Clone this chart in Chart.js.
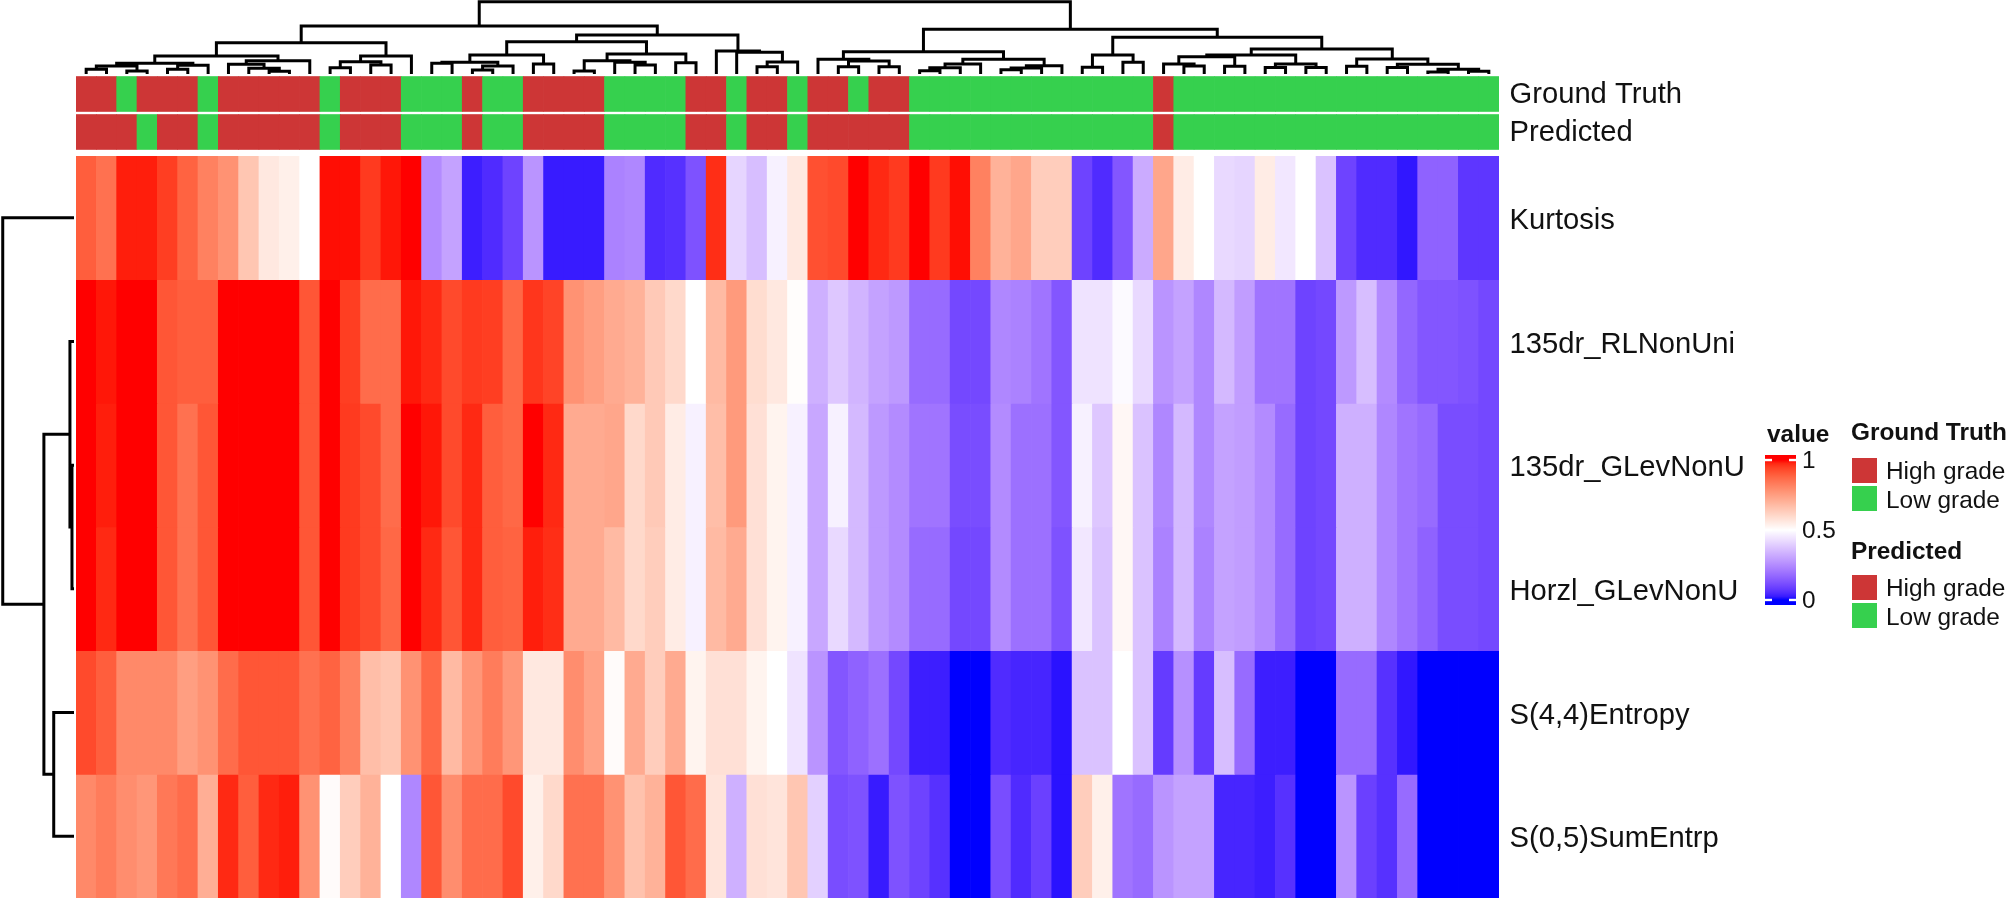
<!DOCTYPE html>
<html>
<head>
<meta charset="utf-8">
<title>Heatmap</title>
<script src="https://cdn.jsdelivr.net/npm/chart.js@4"></script>
<style>
  html, body { margin: 0; padding: 0; background: #fff; overflow: hidden; }
  canvas { position: absolute; }
  .txt { position: absolute; font-family: "Liberation Sans", Arial, sans-serif; font-size: 24.4px; line-height: 28px; color: #111; white-space: nowrap; }
  .bold { font-weight: bold; }
  .swatch { position: absolute; width: 25px; height: 25px; }
</style>
</head>
<body>
<canvas id="dendroTop" style="left:76px;top:0" width="1423" height="74"></canvas>
<canvas id="dendroLeft" style="left:0;top:156px" width="74" height="742"></canvas>
<canvas id="anno" style="left:76px;top:75px" width="1723" height="76"></canvas>
<canvas id="heat" style="left:76px;top:156px" width="1723" height="742"></canvas>
<canvas id="colorbar" style="left:1765px;top:440px" width="80" height="180"></canvas>

<div class="txt bold" style="left:1767px;top:420px">value</div>
<div class="txt bold" style="left:1851px;top:418px">Ground Truth</div>
<div class="swatch" style="left:1852px;top:458px;background:#cd3636"></div>
<div class="txt" style="left:1886px;top:457px">High grade</div>
<div class="swatch" style="left:1852px;top:486px;background:#36d04e"></div>
<div class="txt" style="left:1886px;top:486px">Low grade</div>
<div class="txt bold" style="left:1851px;top:537px">Predicted</div>
<div class="swatch" style="left:1852px;top:575px;background:#cd3636"></div>
<div class="txt" style="left:1886px;top:574px">High grade</div>
<div class="swatch" style="left:1852px;top:603px;background:#36d04e"></div>
<div class="txt" style="left:1886px;top:603px">Low grade</div>

<script>
// values, columns in the order of the dendrogram
var rowLabels = ['Kurtosis', '135dr_RLNonUni', '135dr_GLevNonU', 'Horzl_GLevNonU', 'S(4,4)Entropy', 'S(0,5)SumEntrp'];
var annoLabels = ['Ground Truth', 'Predicted'];

var kurtosis = [.895,.855,.985,.985,.95,.885,.82,.78,.65,.56,
  .54,.5,.995,.995,.955,.99,1,.25,.3,.03,
  .05,.095,.27,.025,.025,.025,.23,.24,.05,.06,
  .125,.97,.41,.36,.47,.56,.92,.93,1,.975,
  .955,1,.955,.995,.82,.7,.73,.63,.63,.095,
  .05,.135,.32,.73,.55,.5,.42,.41,.55,.45,
  .5,.37,.095,.05,.05,.02,.16,.16,.07,.07];
var rlNonUni135 = [1,.99,1,1,.91,.895,.895,1,1,1,
  1,.91,1,.95,.865,.865,.99,.975,.93,.955,
  .95,.875,.96,.94,.78,.75,.72,.7,.64,.6,
  .5,.68,.76,.59,.56,.505,.33,.38,.34,.3,
  .28,.18,.18,.105,.105,.24,.23,.2,.135,.44,
  .44,.49,.42,.27,.3,.24,.35,.29,.2,.2,
  .095,.105,.28,.36,.25,.17,.135,.135,.125,.105];
var gLevNonU135 = [1,.985,1,1,.91,.855,.91,1,1,1,
  1,.91,1,.955,.93,.865,1,.99,.93,.975,
  .895,.875,1,.975,.72,.72,.73,.6,.64,.55,
  .47,.67,.76,.58,.53,.47,.31,.47,.35,.28,
  .25,.2,.2,.115,.115,.25,.19,.19,.135,.47,
  .38,.52,.37,.24,.35,.24,.3,.29,.25,.18,
  .095,.105,.33,.33,.24,.2,.18,.115,.115,.105];
var horzlGLevNonU = [1,.975,1,1,.91,.855,.91,1,1,1,
  1,.91,1,.955,.93,.875,1,.975,.91,.975,
  .895,.885,.985,.97,.72,.72,.68,.6,.63,.55,
  .47,.68,.72,.58,.53,.47,.31,.42,.35,.28,
  .25,.18,.18,.105,.105,.25,.19,.19,.125,.45,
  .37,.52,.37,.23,.35,.23,.3,.29,.25,.18,
  .095,.105,.33,.33,.24,.2,.16,.115,.115,.105];
var entropy44 = [.93,.895,.8,.8,.8,.75,.78,.865,.91,.91,
  .91,.855,.885,.82,.67,.65,.78,.875,.68,.77,
  .83,.77,.56,.56,.79,.74,.51,.72,.63,.72,
  .53,.58,.58,.53,.5,.44,.27,.135,.16,.19,
  .105,.03,.03,0,0,.05,.04,.04,.015,.37,
  .37,.5,.37,.08,.26,.08,.36,.18,.03,.03,
  0,0,.18,.18,.06,.02,0,0,0,0];
var sumEntrp05 = [.8,.83,.79,.77,.84,.865,.71,.975,.895,.975,
  .985,.78,.51,.63,.7,.5,.24,.91,.79,.865,
  .865,.93,.54,.6,.855,.855,.78,.66,.7,.91,
  .865,.57,.33,.58,.57,.65,.4,.115,.125,.025,
  .125,.095,.06,0,0,.115,.05,.09,.015,.63,
  .54,.2,.18,.27,.3,.3,.04,.04,.03,.06,
  0,0,.27,.09,.06,.18,0,0,0,0];
var heatRows = [kurtosis, rlNonUni135, gLevNonU135, horzlGLevNonU, entropy44, sumEntrp05];

// 1 = high grade, 0 = low grade
var groundTruth = [1,1,0,1,1,1,0,1,1,1,1,1,0,1,1,1,0,0,0,1,
  0,0,1,1,1,1,0,0,0,0,1,1,0,1,1,0,1,1,0,1,
  1,0,0,0,0,0,0,0,0,0,0,0,0,1,0,0,0,0,0,0,
  0,0,0,0,0,0,0,0,0,0];
var predicted = [1,1,1,0,1,1,0,1,1,1,1,1,0,1,1,1,0,0,0,1,
  0,0,1,1,1,1,0,0,0,0,1,1,0,1,1,0,1,1,1,1,
  1,0,0,0,0,0,0,0,0,0,0,0,0,1,0,0,0,0,0,0,
  0,0,0,0,0,0,0,0,0,0];
var annoRows = [groundTruth, predicted];
var gradeColors = ['#36d04e', '#cd3636'];

// dendrograms as [height, left, right], a plain number is a leaf index
var colTree = [72.3,
  [48,
    [31.3,
      [18, [10.7, [8, [4.7, 0, 1], [3, 2, 3]], [8.7, [4.7, 4, 5], 6]], [13.3, [9.7, 7, [5.7, 8, [2.7, 9, 10]]], 11]],
      [18, [12.3, [6.3, 12, 13], [9, 14, 15]], 16]
    ],
    [39,
      [32.3,
        [19, [11.7, [10.7, 17, 18], [8, [4, 19, 20], 21]], [10, 22, 23]],
        [20, [13.3, [3, 24, 25], [11.7, 26, [9, 27, 28]]], [11.3, 29, 30]]
      ],
      [23, 31, [21.7, 32, [12, [7.3, 33, 34], 35]]]
    ]
  ],
  [44.7,
    [22.3,
      [14.7, 36, [13, [7.3, 37, 38], [7.3, 39, 40]]],
      [14.7, [10, [6.3, [3.3, 41, 42], 43], 44], [8.3, [6, [4.3, 45, 46], 47], 48]]
    ],
    [36.7,
      [19, [6.7, 49, 50], [11.7, 51, 52]],
      [25.1,
        [18.9, [17.2, [10, 53, [8, 54, 55]], [7.7, 56, 57]], [10, [6.4, 58, 59], [6.4, 60, 61]]],
        [15.1, [7.7, 62, 63], [9.7, [6.4, 64, 65], [4.8, [1.9, 66, 67], [2.7, 68, 69]]]]
      ]
    ]
  ]
];
var rowTree = [70.3, 0, [29.7, [4, 1, [2, 2, 3]], [20, 4, 5]]];

var colorTicks = [0, 0.5, 1];

var fontName = '"Liberation Sans", Arial, sans-serif';
var colIds = kurtosis.map(function (v, i) { return i + 1; });

// blue - white - red ramp, interpolated in Lab like colorRamp2
function toLab(c) {
  var r = c.map(function (v) { v /= 255; return v > 0.04045 ? Math.pow((v + 0.055) / 1.055, 2.4) : v / 12.92; });
  var x = (0.4124 * r[0] + 0.3576 * r[1] + 0.1805 * r[2]) / 0.95047;
  var y = 0.2126 * r[0] + 0.7152 * r[1] + 0.0722 * r[2];
  var z = (0.0193 * r[0] + 0.1192 * r[1] + 0.9505 * r[2]) / 1.08883;
  var f = function (t) { return t > 0.008856 ? Math.cbrt(t) : 7.787 * t + 16 / 116; };
  return [116 * f(y) - 16, 500 * (f(x) - f(y)), 200 * (f(y) - f(z))];
}
function fromLab(l) {
  var fy = (l[0] + 16) / 116, fx = l[1] / 500 + fy, fz = fy - l[2] / 200;
  var g = function (t) { return t * t * t > 0.008856 ? t * t * t : (t - 16 / 116) / 7.787; };
  var x = g(fx) * 0.95047, y = g(fy), z = g(fz) * 1.08883;
  var rgb = [3.2406 * x - 1.5372 * y - 0.4986 * z, -0.9689 * x + 1.8758 * y + 0.0415 * z, 0.0557 * x - 0.204 * y + 1.057 * z];
  return 'rgb(' + rgb.map(function (v) {
    v = v > 0.0031308 ? 1.055 * Math.pow(v, 1 / 2.4) - 0.055 : 12.92 * v;
    return Math.round(Math.min(1, Math.max(0, v)) * 255);
  }).join(',') + ')';
}
var labBlue = toLab([0, 0, 255]), labWhite = toLab([255, 255, 255]), labRed = toLab([255, 0, 0]);
function valueColor(v) {
  var a = v < 0.5 ? labBlue : labWhite, b = v < 0.5 ? labWhite : labRed;
  var t = v < 0.5 ? v * 2 : (v - 0.5) * 2;
  return fromLab([0, 1, 2].map(function (i) { return a[i] + (b[i] - a[i]) * t; }));
}

// walk a tree, give back the line points of the elbows
function treePoints(tree, swap) {
  var pts = [];
  function add(h, p) { pts.push(swap ? { x: h, y: p } : { x: p, y: h }); }
  function walk(n) {
    if (typeof n === 'number') return { pos: n + 0.5, h: 0 };
    var l = walk(n[1]), r = walk(n[2]);
    add(l.h, l.pos); add(n[0], l.pos); add(n[0], r.pos); add(r.h, r.pos);
    pts.push({ x: null, y: null });
    return { pos: (l.pos + r.pos) / 2, h: n[0] };
  }
  walk(tree);
  return pts;
}

var quiet = { legend: { display: false }, tooltip: { enabled: false } };

function dendroChart(id, points, xScale, yScale) {
  return new Chart(document.getElementById(id), {
    type: 'scatter',
    data: { datasets: [{
      data: points, showLine: true, clip: false, pointRadius: 0,
      borderColor: '#000', borderWidth: 3, borderCapStyle: 'square', borderJoinStyle: 'miter'
    }] },
    options: {
      responsive: false, maintainAspectRatio: false, animation: false, plugins: quiet, layout: { padding: 0 },
      scales: { x: xScale, y: yScale }
    }
  });
}

dendroChart('dendroTop', treePoints(colTree, false),
  { type: 'linear', min: 0, max: 70, display: false },
  { type: 'linear', min: 0, max: 74, display: false });
dendroChart('dendroLeft', treePoints(rowTree, true),
  { type: 'linear', min: 0, max: 73, reverse: true, display: false },
  { type: 'linear', min: 0, max: 6, reverse: true, display: false });

// one dataset per row, floating bars so each cell sits in its own band
// nudge moves the label a little below the band centre, as in the picture
function cellChart(id, labels, rows, colorOf, gap, nudge) {
  return new Chart(document.getElementById(id), {
    type: 'bar',
    data: {
      labels: colIds,
      datasets: rows.map(function (row, r) {
        return {
          data: row.map(function () { return [r + gap, r + 1 - gap]; }),
          backgroundColor: row.map(colorOf),
          borderWidth: 0, grouped: false, barPercentage: 1, categoryPercentage: 1
        };
      })
    },
    options: {
      responsive: false, maintainAspectRatio: false, animation: false, plugins: quiet, layout: { padding: 0 },
      scales: {
        x: { display: false },
        y: {
          type: 'linear', position: 'right', reverse: true, min: 0, max: labels.length,
          grid: { display: false, drawTicks: false }, border: { display: false },
          afterFit: function (s) { s.width = 300; s.paddingTop = 0; s.paddingBottom = 0; },
          afterBuildTicks: function (s) {
            s.ticks = labels.map(function (l, i) { return { value: i + 0.5 + nudge }; });
          },
          ticks: {
            autoSkip: false, padding: 10.5, color: '#111', font: { family: fontName, size: 29.2 },
            callback: function (v, i) { return labels[i]; }
          }
        }
      }
    }
  });
}

cellChart('anno', annoLabels, annoRows, function (v) { return gradeColors[v]; }, 0.04, 0.03);
cellChart('heat', rowLabels, heatRows, valueColor, 0, 0.024);

// colour bar, the white notches sit on its ticks
var notches = {
  id: 'notches',
  afterDatasetsDraw: function (chart) {
    var c = chart.ctx, a = chart.chartArea;
    c.save();
    c.fillStyle = '#fff';
    colorTicks.forEach(function (t) {
      var y = chart.scales.y.getPixelForValue(t);
      c.fillRect(a.left, y - 1.2, 7, 2.4);
      c.fillRect(a.right - 7, y - 1.2, 7, 2.4);
    });
    c.restore();
  }
};

new Chart(document.getElementById('colorbar'), {
  type: 'bar',
  data: {
    labels: ['value'],
    datasets: [{
      data: [[-0.036, 1.036]], borderWidth: 0, barPercentage: 1, categoryPercentage: 1,
      backgroundColor: function (ctx) {
        var chart = ctx.chart;
        if (!chart.chartArea) return '#fff';
        var top = chart.scales.y.getPixelForValue(1), bot = chart.scales.y.getPixelForValue(0);
        var g = chart.ctx.createLinearGradient(0, bot, 0, top);
        for (var i = 0; i <= 40; i++) g.addColorStop(i / 40, valueColor(i / 40));
        return g;
      }
    }]
  },
  options: {
    responsive: false, maintainAspectRatio: false, animation: false, plugins: quiet,
    layout: { padding: { top: 15, bottom: 15 } },
    scales: {
      x: { display: false },
      y: {
        type: 'linear', position: 'right', min: -0.036, max: 1.036,
        grid: { display: false, drawTicks: false }, border: { display: false },
        afterFit: function (s) { s.width = 49; s.paddingTop = 0; s.paddingBottom = 0; },
        afterBuildTicks: function (s) {
          s.ticks = colorTicks.map(function (t) { return { value: t - 0.012 }; });
        },
        ticks: {
          padding: 6, color: '#111', font: { family: fontName, size: 24.4 },
          callback: function (v, i) { return String(colorTicks[i]); }
        }
      }
    }
  },
  plugins: [notches]
});
</script>
</body>
</html>
